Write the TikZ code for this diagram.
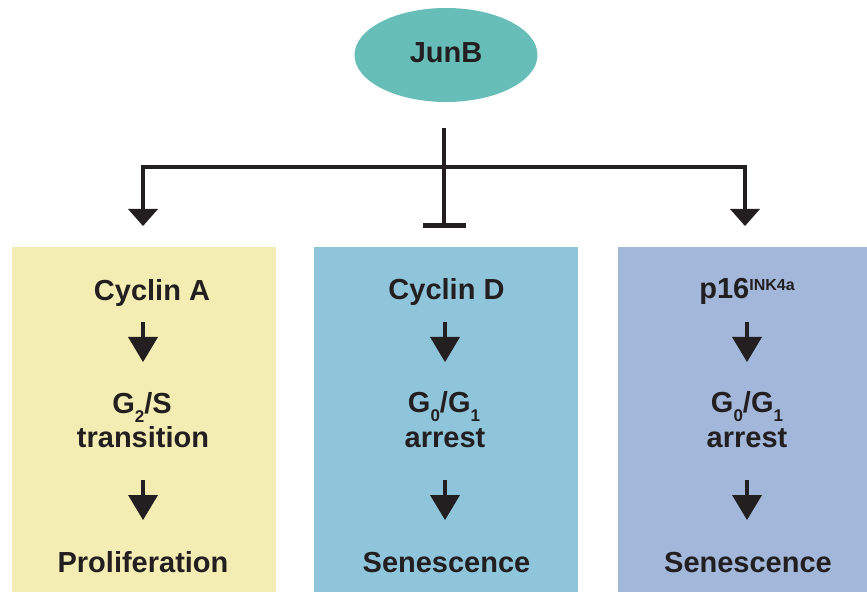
\documentclass[tikz,border=0pt]{standalone}
\usepackage{fontspec}
\setmainfont{Liberation Sans}
\usetikzlibrary{arrows.meta,shapes.geometric}
\definecolor{txt}{HTML}{231F20}
\definecolor{ovalc}{HTML}{67BEB9}
\definecolor{boxA}{HTML}{F3EDB4}
\definecolor{boxB}{HTML}{8FC5DB}
\definecolor{boxC}{HTML}{A2B7DA}
\newcommand{\subdig}[1]{\raisebox{-9pt}{\fontsize{17}{17}\selectfont #1}}
\newcommand{\suptxt}[1]{\raisebox{8.5pt}{\fontsize{16}{16}\selectfont #1}}
\begin{document}
\begin{tikzpicture}[x=1pt,y=-1pt,
  lbl/.style={anchor=base, inner sep=0pt, text=txt, font=\fontsize{29}{32}\selectfont\bfseries},
  panel/.style={draw=none, inner sep=0pt, minimum height=345pt},
  flow/.style={draw=txt, line width=4.5pt, -{Triangle[width=30pt,length=25pt,line width=0pt]}},
  branch/.style={draw=txt, line width=4.5pt, line join=miter},
  tipT/.tip={Triangle[width=30pt,length=17pt,line width=0pt]}
]
\useasboundingbox (0,0) rectangle (867,601);

% panels
\node[panel, fill=boxA, minimum width=264pt] (pA) at (144,419.5) {};
\node[panel, fill=boxB, minimum width=264pt] (pB) at (446,419.5) {};
\node[panel, fill=boxC, minimum width=249pt] (pC) at (742.5,419.5) {};

% JunB
\node[ellipse, fill=ovalc, minimum width=183pt, minimum height=94pt, inner sep=0pt,
      text=txt, font=\fontsize{29}{32}\selectfont\bfseries, text height=16pt, text depth=0pt] (junb) at (446,55) {JunB};

% branch connectors
\coordinate (hub) at (444,167);
\coordinate (tipA) at (143,226);
\coordinate (tipC) at (745,226);
\coordinate (tbar) at (444,228);
\draw[branch, shorten <=26pt, -{Bar[width=43pt,line width=4.5pt]}] (junb.south -| hub) -- (tbar);
\draw[branch, {tipT}-{tipT}] (tipA) |- (hub) -| (tipC);

% column A
\node[lbl] (a1) at (152,301) {Cyclin A};
\node[lbl] (a2) at (142,413) {G\subdig{2}/S};
\node[lbl] (a3) at (143,447) {transition};
\node[lbl] (a4) at (143,572) {Proliferation};

% column B
\node[lbl] (b1) at (446.5,300) {Cyclin D};
\node[lbl] (b2) at (444,412) {G\subdig{0}/G\subdig{1}};
\node[lbl] (b3) at (445,447) {arrest};
\node[lbl] (b4) at (446.5,572) {Senescence};

% column C
\node[lbl] (c1) at (747,299) {p16\suptxt{INK4a}};
\node[lbl] (c2) at (747,412) {G\subdig{0}/G\subdig{1}};
\node[lbl] (c3) at (747,447) {arrest};
\node[lbl] (c4) at (748,572) {Senescence};

% inner arrows
\foreach \n/\x in {A/143,B/445,C/747}{
  \coordinate (s1\n) at (\x,322);
  \coordinate (e1\n) at (\x,362);
  \coordinate (s2\n) at (\x,480);
  \coordinate (e2\n) at (\x,520);
  \draw[flow] (s1\n) -- (e1\n);
  \draw[flow] (s2\n) -- (e2\n);
}
\end{tikzpicture}
\end{document}
